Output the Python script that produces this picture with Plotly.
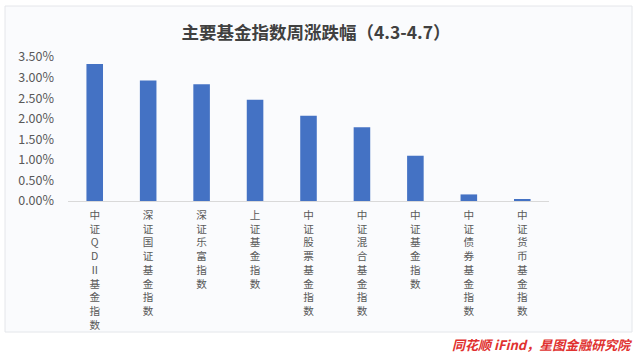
import plotly.graph_objects as go

categories = ["中证QDII基金指数", "深证国证基金指数", "深证乐富指数", "上证基金指数",
              "中证股票基金指数", "中证混合基金指数", "中证基金指数", "中证债券基金指数",
              "中证货币基金指数"]
values = [3.33, 2.93, 2.84, 2.46, 2.07, 1.79, 1.10, 0.16, 0.04]
y_ticks = [0, 0.5, 1.0, 1.5, 2.0, 2.5, 3.0, 3.5]
y_tick_text = ["0.00%", "0.50%", "1.00%", "1.50%", "2.00%", "2.50%", "3.00%", "3.50%"]


def stack(label):
    parts = []
    i = 0
    while i < len(label):
        if label[i:i + 2] == "II":
            parts.append("Ⅱ")
            i += 2
        else:
            parts.append(label[i])
            i += 1
    return "<br>".join(parts)


tick_labels = [stack(c) for c in categories]
FONT = "Noto Sans CJK SC"

fig = go.Figure(go.Bar(x=categories, y=values, marker_color="#4472C4",
                       marker_line_width=0, width=0.31))

fig.add_shape(type="rect", xref="paper", yref="paper",
              x0=-63 / 481, x1=(632 - 68) / 481, y0=(201 - 332) / 144, y1=(201 - 6) / 144,
              fillcolor="#fafbfd", line=dict(color="#e4e6ea", width=1), layer="below")

fig.update_layout(
    width=640, height=353,
    margin=dict(l=68, r=91, t=57, b=152),
    paper_bgcolor="white", plot_bgcolor="rgba(0,0,0,0)",
    title=dict(text="<b>主要基金指数周涨跌幅（4.3-4.7）</b>", x=316 / 640, xanchor="center",
               y=1 - 33 / 353, yanchor="middle",
               font=dict(family=FONT, size=17.5, color="#404040")),
    font=dict(family=FONT, color="#595959"),
    showlegend=False,
    bargap=0.69,
)
fig.update_xaxes(tickmode="array", tickvals=categories, ticktext=tick_labels,
                 tickangle=0, tickfont=dict(size=10.6, color="#595959"),
                 showline=True, linecolor="#d9d9d9", linewidth=1, ticks="",
                 showgrid=False, ticklabelstandoff=4)
fig.update_yaxes(range=[0, 3.5], tickmode="array", tickvals=y_ticks, ticktext=y_tick_text,
                 tickfont=dict(size=12.5, color="#595959"), showgrid=False, zeroline=False,
                 showline=False, ticklabelstandoff=13)

fig.add_annotation(text="<i><b>同花顺 iFind，星图金融研究院</b></i>", xref="paper", yref="paper",
                   x=(634 - 68) / 481, y=(201 - 344) / 144, xanchor="right", yanchor="middle",
                   showarrow=False, font=dict(family=FONT, size=13, color="#e0312f"))

fig.write_html("out.html")
